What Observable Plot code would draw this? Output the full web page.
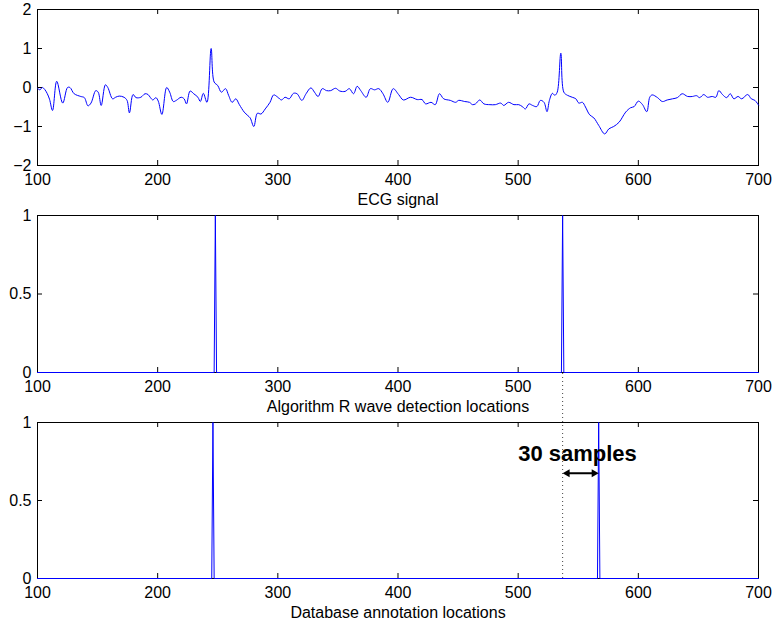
<!DOCTYPE html>
<html><head><meta charset="utf-8">
<script src="https://cdn.jsdelivr.net/npm/d3@7"></script>
<script src="https://cdn.jsdelivr.net/npm/@observablehq/plot@0.6"></script>
<style>
body{margin:0;background:#fff}
#chart{position:relative;width:774px;height:624px;background:#fff}
</style>
</head><body><div id="chart"></div>
<script>
// ---- data ----
const ecgX = [100,102,104,106,108,110,112.5,116,121,125,127,130.5,136,139,142,144.5,148.5,150.5,153,156.5,158.5,162.5,165,168,172,174.5,176.5,179.5,182,186,189.5,192,194,196,198.5,200.5,203.5,207.5,210,213,215.5,219.5,222,224,227,230,233.5,235.5,238,241,244.5,247,250,253,256.5,259,262,265,268,272,275,277,280,283,286,289.5,293.5,296.5,300,303,306,309.5,313,316,320,323.5,327.5,330.5,333.5,337,340.5,344,348,351.5,356,359.5,363,366,369,373.5,377,380.5,384,387.5,391.5,396,400.5,404.5,410.5,416,420,423,427.5,431,434.5,438,443.5,448,450.5,455.5,459.5,462,464.5,468,471.5,476.5,481,485.5,488,492,496.5,500.5,503.5,506,509,512,515.5,518.5,521.5,524,526,528.5,530.5,532.5,535.5,538,541,545,548,550.5,553.5,556,559.5,563,567,572,575.5,579.5,584,589.5,593.5,596.5,600,603.5,607,609.5,611.5,616,620,624,628.5,632.5,636.5,641,645,648.5,651,654.5,657.5,661.5,664.5,667,670,673.5,676.5,679.5,683,686,691,694,697,700];
const ecgY = [-0.02,-0.06,0.0,-0.05,-0.15,-0.3,-0.59,0.16,-0.40,0.0,0.0,-0.16,-0.23,-0.26,-0.47,-0.4,-0.08,-0.12,-0.46,0.07,0.0,-0.29,-0.25,-0.22,-0.25,-0.33,-0.65,-0.18,-0.26,-0.25,-0.16,-0.18,-0.26,-0.32,-0.26,-0.35,-0.69,0.0,-0.12,-0.36,-0.33,-0.25,-0.29,-0.42,-0.09,-0.16,-0.25,-0.36,-0.15,-0.38,1.0,0.14,0.05,-0.12,-0.03,-0.2,-0.38,-0.29,-0.44,-0.63,-0.72,-0.78,-1.0,-0.66,-0.68,-0.55,-0.38,-0.19,-0.25,-0.32,-0.25,-0.29,-0.15,-0.16,-0.33,-0.16,-0.01,-0.12,-0.23,-0.03,-0.08,-0.08,-0.02,-0.09,-0.1,-0.03,-0.16,0.03,-0.08,-0.25,-0.03,-0.06,-0.03,-0.16,-0.38,-0.03,-0.18,-0.32,-0.25,-0.31,-0.31,-0.42,-0.38,-0.44,-0.16,-0.29,-0.33,-0.38,-0.33,-0.36,-0.38,-0.44,-0.42,-0.32,-0.42,-0.44,-0.44,-0.4,-0.46,-0.38,-0.44,-0.44,-0.49,-0.55,-0.42,-0.46,-0.49,-0.33,-0.38,-0.62,-0.33,-0.15,-0.2,-0.12,0.88,-0.12,-0.2,-0.25,-0.29,-0.4,-0.38,-0.5,-0.7,-0.78,-0.97,-1.19,-1.06,-1.0,-0.89,-0.63,-0.52,-0.49,-0.35,-0.44,-0.62,-0.25,-0.19,-0.26,-0.36,-0.32,-0.29,-0.26,-0.16,-0.23,-0.23,-0.21,-0.26,-0.18,-0.25,-0.23,-0.25,-0.08,-0.18,-0.26,-0.16,-0.29,-0.23,-0.29,-0.18,-0.29,-0.33,-0.45];

const algX = [100,247,248,249,536,537,538,700];
const algY = [0,0,1,0,0,1,0,0];
const dbX  = [100,245,246,247,566,567,568,700];
const dbY  = [0,0,1,0,0,1,0,0];

const xTicks = [100,200,300,400,500,600,700];
const ecgTicks = [-2,-1,0,1,2];
const pulseTicks = [0,0.5,1];
const titles = ["ECG signal","Algorithm R wave detection locations","Database annotation locations"];

const annArrowX = [537,567];   // detection vs annotation
const annArrowY = [0.675];
const annLabel = ["30 samples"];
const annLabelX = [500];
const annLabelY = [0.8];

// ---- layout ----
const W = 774, H = 624, ML = 37, MR = 16;
const panels = [{top:9,bottom:165},{top:215,bottom:372},{top:422,bottom:578}];
const blue = "#0000ff";
const FONT = "'Liberation Sans', Arial, Helvetica, sans-serif";
const fmt = d => (d < 0 ? "\u2212" : "") + String(Math.abs(d));

function toRows(xs, ys){ return xs.map((x,i)=>({x, y: ys[i]})); }

function panel(i, yDomain, yTicks, rows, extra = []) {
  const p = panels[i];
  const fh = p.bottom - p.top, fw = W - ML - MR;
  return Plot.plot({
    width: W, height: H,
    marginLeft: ML, marginRight: MR, marginTop: p.top, marginBottom: H - p.bottom,
    x: {domain: [100, 700]},
    y: {domain: yDomain},
    style: {position: "absolute", left: "0px", top: "0px", background: "transparent",
            fontFamily: FONT, fontSize: "16px", color: "black", overflow: "visible"},
    marks: [
      Plot.frame({stroke: "black", strokeWidth: 1}),
      Plot.ruleX(xTicks, {x: d => d, insetBottom: fh - 5, stroke: "black"}),
      Plot.ruleX(xTicks, {x: d => d, insetTop: fh - 5, stroke: "black"}),
      Plot.ruleY(yTicks, {y: d => d, insetRight: fw - 5, stroke: "black"}),
      Plot.ruleY(yTicks, {y: d => d, insetLeft: fw - 5, stroke: "black"}),
      Plot.axisX({ticks: xTicks, tickSize: 0, tickPadding: 8, label: null, tickFormat: fmt, fontSize: 16, fill: "black"}),
      Plot.axisY({ticks: yTicks, tickSize: 0, tickPadding: 6, label: null, tickFormat: fmt, fontSize: 16, fill: "black"}),
      Plot.line(rows, {x: "x", y: "y", stroke: blue, strokeWidth: 1, curve: i === 0 ? "catmull-rom" : "linear"}),
      Plot.text([titles[i]], {text: d => d, frameAnchor: "bottom", lineAnchor: "middle", dy: 34, fontSize: 16, fill: "black"}),
      ...extra
    ]
  });
}

const chart = document.getElementById("chart");
chart.append(panel(0, [-2, 2], ecgTicks, toRows(ecgX, ecgY)));
chart.append(panel(1, [0, 1], pulseTicks, toRows(algX, algY)));

// dotted guide from bottom of panel 2 down through panel 3 (in panel-3 units)
const p2 = panels[1], p3 = panels[2];
const guideTop = (p3.bottom - p2.bottom) / (p3.bottom - p3.top);
const headR = 3, tip = 2 * Math.sqrt(Math.PI * headR * headR / (3 * Math.sqrt(3)));

chart.append(panel(2, [0, 1], pulseTicks, toRows(dbX, dbY), [
  Plot.ruleX([annArrowX[0]], {x: d => d, y1: 0, y2: guideTop, stroke: "#444", strokeWidth: 1, strokeDasharray: "1,3"}),
  Plot.arrow(annArrowY, {x1: annArrowX[0], x2: annArrowX[1], y1: d => d, y2: d => d,
    headLength: 0, insetStart: 4, insetEnd: 4, stroke: "black", strokeWidth: 2}),
  Plot.dot(annArrowY, {x: annArrowX[0], y: d => d, symbol: "triangle", r: headR, rotate: -90, fill: "black", stroke: "none", dx: tip}),
  Plot.dot(annArrowY, {x: annArrowX[1], y: d => d, symbol: "triangle", r: headR, rotate: 90, fill: "black", stroke: "none", dx: -tip}),
  Plot.text(annLabel, {x: annLabelX[0], y: annLabelY[0], text: d => d, textAnchor: "start",
    fontWeight: "bold", fontSize: 22, fill: "black"})
]));
</script>
</body></html>
